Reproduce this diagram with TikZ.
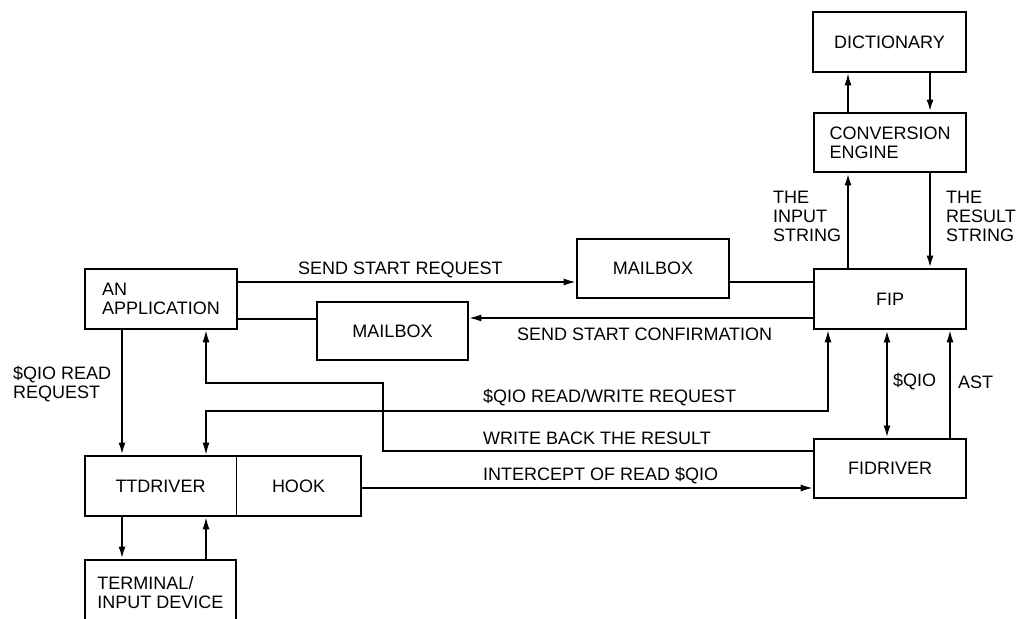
\documentclass[tikz,border=0pt]{standalone}
\usepackage{fontspec}
\setmainfont{Liberation Sans}
\usetikzlibrary{arrows.meta}
\begin{document}
\begin{tikzpicture}[x=1pt,y=-1pt,
  font=\fontsize{18}{19}\selectfont,
  box/.style={draw,line width=2.8pt,inner sep=0pt,align=left},
  cell/.style={inner sep=0pt,align=center},
  lbl/.style={inner sep=0pt,anchor=west,align=left},
  conn/.style={line width=1.3pt},
  thk/.style={line width=2pt},
  arr/.style={-{Latex[length=12pt,width=7pt]}},
  darr/.style={{Latex[length=12pt,width=7pt]}-{Latex[length=12pt,width=7pt]}}]
\useasboundingbox[fill=white] (0,0) rectangle (1019,618);
% boxes
\node[box,minimum width=153pt,minimum height=60pt] (dict) at (889.5,42) {DICTIONARY};
\node[box,minimum width=152pt,minimum height=59pt] (conv) at (890,142.5) {CONVERSION\\ENGINE};
\node[box,minimum width=152pt,minimum height=60pt] (fip) at (890,299) {FIP};
\node[box,minimum width=152pt,minimum height=59pt] (fid) at (890,468.5) {FIDRIVER};
\node[box,minimum width=152pt,minimum height=59pt] (mb1) at (653,268.5) {MAILBOX};
\node[box,minimum width=151pt,minimum height=58pt] (mb2) at (392.5,331) {MAILBOX};
\node[box,minimum width=152pt,minimum height=60pt] (app) at (161,299) {AN\\APPLICATION};
\node[box,minimum width=276pt,minimum height=60pt] (tth) at (223,486) {};
\node[cell,minimum width=151pt,minimum height=60pt] (tt) at (160.5,486) {TTDRIVER};
\node[cell,minimum width=125pt,minimum height=60pt] (hook) at (298.5,486) {HOOK};
\draw[conn] (tt.north east) -- (tt.south east);
\node[box,minimum width=151pt,minimum height=66pt] (term) at (160.5,593) {TERMINAL/\\INPUT DEVICE};
% connectors
\draw[conn,arr] (app.east |- 0,282) -- (mb1.west |- 0,282);
\draw[conn] (mb1.east |- 0,282) -- (fip.west |- 0,282);
\draw[conn,arr] (fip.west |- 0,318) -- (mb2.east |- 0,318);
\draw[conn] (app.east |- 0,319) -- (mb2.west |- 0,319);
\draw[thk,arr] (app.south -| 122,0) -- (tth.north -| 122,0);
\draw[conn,darr] (tth.north -| 206,0) -- (206,411) -- (828,411) -- (fip.south -| 828,0);
\draw[conn,arr] (fid.west |- 0,451) -- (383,451) -- (383,383) -- (206,383) -- (app.south -| 206,0);
\draw[conn,arr] (tth.east |- 0,488) -- (fid.west |- 0,488);
\draw[thk,arr] (tth.south -| 122,0) -- (term.north -| 122,0);
\draw[conn,arr] (term.north -| 206,0) -- (tth.south -| 206,0);
\draw[thk,darr] (fip.south -| 887,0) -- (fid.north -| 887,0);
\draw[conn,arr] (fid.north -| 950,0) -- (fip.south -| 950,0);
\draw[thk,arr] (fip.north -| 848,0) -- (conv.south -| 848,0);
\draw[thk,arr] (conv.south -| 930,0) -- (fip.north -| 930,0);
\draw[conn,arr] (conv.north -| 848,0) -- (dict.south -| 848,0);
\draw[thk,arr] (dict.south -| 930,0) -- (conv.north -| 930,0);
% labels
\node[lbl] (l1) at (298,270) {SEND START REQUEST};
\node[lbl] (l2) at (517,334) {SEND START CONFIRMATION};
\node[lbl] (l3) at (483,398) {\$QIO READ/WRITE REQUEST};
\node[lbl] (l4) at (483,438) {WRITE BACK THE RESULT};
\node[lbl] (l5) at (483,476) {INTERCEPT OF READ \$QIO};
\node[lbl] (l6) at (13,384) {\$QIO READ\\REQUEST};
\node[lbl] (l7) at (893,382) {\$QIO};
\node[lbl] (l8) at (958,382) {AST};
\node[lbl] (l9) at (773,216) {THE\\INPUT\\STRING};
\node[lbl] (l10) at (946,216) {THE\\RESULT\\STRING};
\end{tikzpicture}
\end{document}
